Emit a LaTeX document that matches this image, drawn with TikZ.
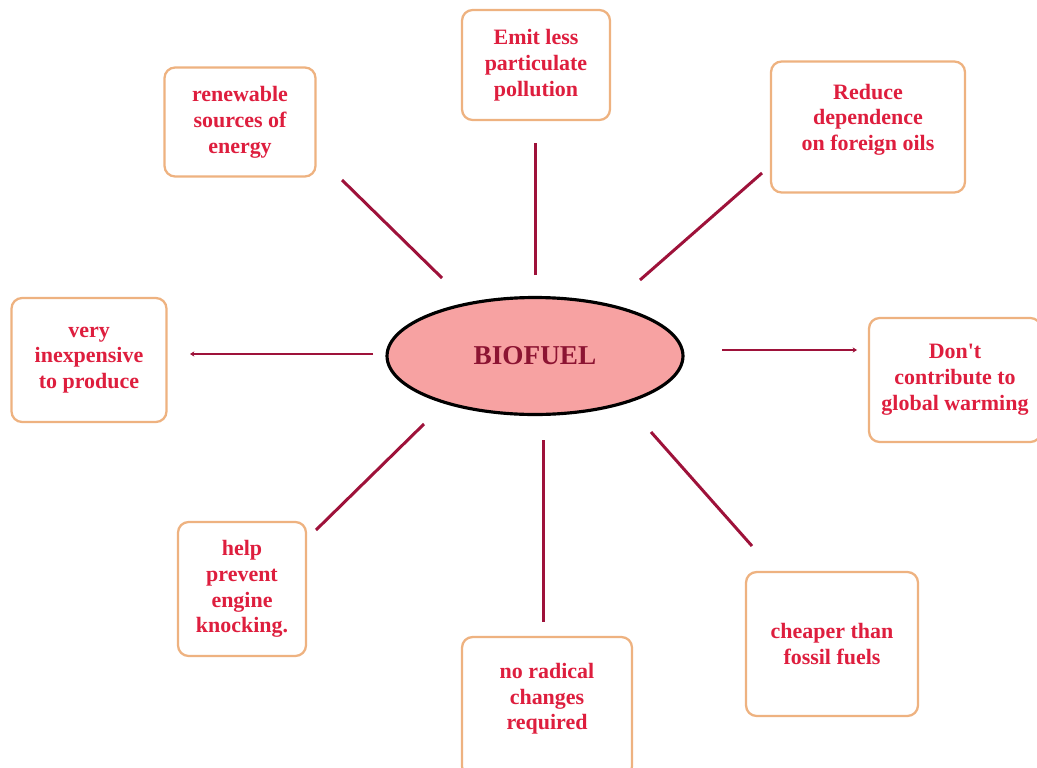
\documentclass[tikz,border=0pt]{standalone}
\usepackage{fontspec}
\setmainfont{Liberation Serif}
\usepackage{xcolor}
\usetikzlibrary{arrows.meta,positioning,shapes}
\definecolor{boxtan}{RGB}{238,178,128}
\definecolor{textred}{RGB}{222,30,62}
\definecolor{linewine}{RGB}{158,18,58}
\definecolor{fuelpink}{RGB}{247,162,162}
\definecolor{fuelwine}{RGB}{140,20,50}

\begin{document}
\begin{tikzpicture}[x=0.02cm,y=-0.02cm,
  benefit/.style={draw=boxtan,fill=white,rounded corners=6pt,line width=1.3pt,
                  font=\fontsize{12.5}{14.7}\selectfont\bfseries,text=textred,align=center},
  core/.style={ellipse,draw=black,fill=fuelpink,line width=1.8pt,
               minimum width=5.92cm,minimum height=2.34cm,
               font=\fontsize{15.5}{17}\selectfont\bfseries,text=fuelwine},
  link/.style={color=linewine,line width=1.7pt},
  tip/.style={link,-{Stealth[length=2.5pt,width=3pt]}}
]
  \useasboundingbox (0,0) rectangle (1037,767);
  \clip (0,0) rectangle (1037,767);
  % centre
  \node[core] (fuel) at (535,356) {BIOFUEL};
  % benefits
  \node[benefit,minimum width=3.02cm,minimum height=2.18cm] (renew) at (240,122) {renewable\\sources of\\energy};
  \node[benefit,minimum width=2.96cm,minimum height=2.2cm] (emit) at (536,65) {Emit less\\particulate\\pollution};
  \node[benefit,minimum width=3.88cm,minimum height=2.62cm,text depth=11pt] (reduce) at (868,127) {Reduce\\dependence\\on foreign oils};
  \node[benefit,minimum width=3.1cm,minimum height=2.48cm] (cheap) at (89,360) {very\\inexpensive\\to produce};
  \node[benefit,minimum width=3.44cm,minimum height=2.48cm] (warm) at (955,380) {Don\textquotesingle t\\contribute to\\global warming};
  \node[benefit,minimum width=2.56cm,minimum height=2.68cm] (knock) at (242,589) {help\\prevent\\engine\\knocking.};
  \node[benefit,minimum width=3.4cm,minimum height=2.8cm,text depth=12pt] (radical) at (547,707) {no radical\\changes\\required};
  \node[benefit,minimum width=3.44cm,minimum height=2.88cm] (fossil) at (832,644) {cheaper than\\fossil fuels};
  % line ends
  \coordinate (renewA) at (442,278);  \coordinate (renewB) at (342,180);
  \coordinate (emitA) at (535,275);   \coordinate (emitB) at (535,143);
  \coordinate (reduceA) at (640,280); \coordinate (reduceB) at (762,173);
  \coordinate (cheapA) at (373,354);  \coordinate (cheapB) at (190,354);
  \coordinate (warmA) at (722,350);   \coordinate (warmB) at (857,350);
  \coordinate (knockA) at (424,424);  \coordinate (knockB) at (316,530);
  \coordinate (radicalA) at (543,440);\coordinate (radicalB) at (543,622);
  \coordinate (fossilA) at (651,432); \coordinate (fossilB) at (752,546);
  % Lines
  \draw[link] (renewA) -- (renewB);
  \draw[link] (emitA) -- (emitB);
  \draw[link] (reduceA) -- (reduceB);
  \draw[tip] (cheapA) -- (cheapB);
  \draw[tip] (warmA) -- (warmB);
  \draw[link] (knockA) -- (knockB);
  \draw[link] (radicalA) -- (radicalB);
  \draw[link] (fossilA) -- (fossilB);
\end{tikzpicture}
\end{document}
